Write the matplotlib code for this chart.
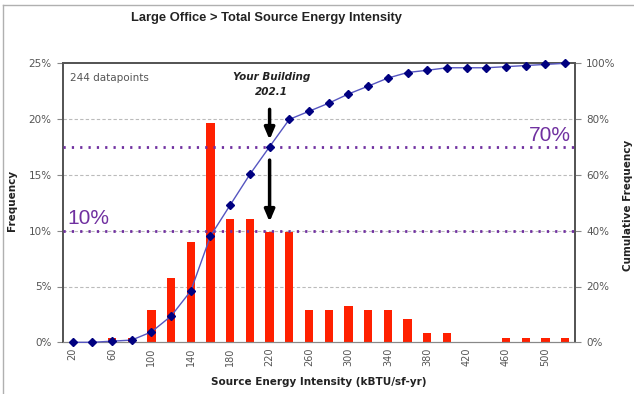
import matplotlib
matplotlib.use("Agg")
import matplotlib.pyplot as plt
from matplotlib.lines import Line2D
from matplotlib.ticker import FuncFormatter

categories = [20, 40, 60, 80, 100, 120, 140, 160, 180, 200, 220, 240, 260,
              280, 300, 320, 340, 360, 380, 400, 420, 440, 460, 480, 500, 520]
frequency = [0.0, 0.0, 0.41, 0.41, 2.87, 5.74, 9.02, 19.67, 11.07, 11.07, 9.84,
             9.84, 2.87, 2.87, 3.28, 2.87, 2.87, 2.05, 0.82, 0.82, 0.0, 0.0,
             0.41, 0.41, 0.41, 0.41]
cumulative = [0.0, 0.0, 0.4, 0.8, 3.7, 9.4, 18.4, 38.1, 49.2, 60.2, 70.1, 79.9,
              82.8, 85.7, 89.0, 91.8, 94.7, 96.7, 97.5, 98.4, 98.4, 98.4, 98.8,
              99.2, 99.6, 100.0]
left_ticks = [0, 5, 10, 15, 20, 25]
right_ticks = [0, 20, 40, 60, 80, 100]
ref_lines = [40, 70]
ref_labels = ["10%", "70%"]
building_value = "202.1"
building_index = 10
n_points = 244

W, H = 634, 394
fig = plt.figure(figsize=(W / 100, H / 100), dpi=100)
fig.patch.set_facecolor("white")

# outer border (left & top visible)
fig.add_artist(Line2D([2.5 / W, 2.5 / W], [0, 1 - 5 / H], transform=fig.transFigure,
                      color="#B0B0B0", lw=1.0))
fig.add_artist(Line2D([2.5 / W, 1], [1 - 5 / H, 1 - 5 / H], transform=fig.transFigure,
                      color="#B0B0B0", lw=1.0))

ax = fig.add_axes([62.7 / W, 1 - 342.3 / H, (575 - 62.7) / W, (342.3 - 63.3) / H])
ax2 = ax.twinx()

x = list(range(len(categories)))
ax.bar(x, frequency, width=0.42, color="#FF2000", zorder=2)
ax.set_xlim(-0.5, len(categories) - 0.5)
ax.set_ylim(0, 25)
ax.set_yticks(left_ticks)
ax.yaxis.set_major_formatter(FuncFormatter(lambda v, p: f"{int(v)}%"))
for t in left_ticks[1:-1]:
    ax.axhline(t, color="#BBBBBB", lw=0.8, dashes=(3, 2), zorder=1)

ax.set_xticks(x[::2])
ax.set_xticklabels([str(c) for c in categories[::2]], rotation=90)
ax.tick_params(axis="x", length=0, pad=4, labelsize=7, labelcolor="#555555")
ax.tick_params(axis="y", length=4, width=0.8, color="#888888", pad=4,
               labelsize=7.5, labelcolor="#555555")

ax2.set_ylim(0, 100)
ax2.set_yticks(right_ticks)
ax2.yaxis.set_major_formatter(FuncFormatter(lambda v, p: f"{int(v)}%"))
ax2.tick_params(axis="y", length=4, width=0.8, color="#888888", pad=4,
                labelsize=7.5, labelcolor="#555555")

for sp in ["left", "right", "top"]:
    ax.spines[sp].set_color("#555555")
    ax.spines[sp].set_linewidth(1.3)
    ax2.spines[sp].set_color("#555555")
    ax2.spines[sp].set_linewidth(1.3)
ax.spines["bottom"].set_color("#888888")
ax2.spines["bottom"].set_color("#888888")

for yv in ref_lines:
    ax2.axhline(yv, color="#7030A0", lw=2.0, dashes=(0.8, 2.2), zorder=3)

ax2.plot(x, cumulative, color="#5555C0", lw=1.0, marker="D", markersize=4.3,
         markerfacecolor="#000080", markeredgecolor="#000080", zorder=4, clip_on=False)

ax2.text(-0.25, 40.8, ref_labels[0], color="#7030A0", fontsize=15,
         family="Liberation Sans", ha="left", va="bottom", zorder=5)
ax2.text(25.3, 70.8, ref_labels[1], color="#7030A0", fontsize=15,
         family="Liberation Sans", ha="right", va="bottom", zorder=5)

ax.text(0.015, 0.965, f"{n_points} datapoints", transform=ax.transAxes,
        fontsize=7.5, color="#555555", ha="left", va="top")

ax2.text(building_index + 0.1, 92.5, f"Your Building\n{building_value}",
         fontsize=7.5, fontweight="bold", fontstyle="italic", ha="center",
         va="center", color="#222222", linespacing=1.6)
ax2.annotate("", xy=(building_index, 72.6), xytext=(building_index, 83.5),
             arrowprops=dict(arrowstyle="-|>,head_width=0.3,head_length=0.7",
                             color="black", lw=2.5, shrinkA=0, shrinkB=0), zorder=6)
ax2.annotate("", xy=(building_index, 43.2), xytext=(building_index, 65.3),
             arrowprops=dict(arrowstyle="-|>,head_width=0.3,head_length=0.7",
                             color="black", lw=2.5, shrinkA=0, shrinkB=0), zorder=6)

fig.text(266 / W, 1 - 18 / H, "Large Office > Total Source Energy Intensity",
         ha="center", va="center", fontsize=9.3, fontweight="bold",
         family="Liberation Sans", color="#222222")
fig.text(319 / W, 1 - 382 / H, "Source Energy Intensity (kBTU/sf-yr)",
         ha="center", va="center", fontsize=7.5, fontweight="bold", color="#222222")
fig.text(12 / W, 1 - 200 / H, "Frequency", rotation=90, ha="center", va="center",
         fontsize=7.5, fontweight="bold", color="#222222")
fig.text(628 / W, 1 - 205 / H, "Cumulative Frequency", rotation=90, ha="center",
         va="center", fontsize=7.5, fontweight="bold", color="#222222")

fig.savefig("out.png", dpi=100)
